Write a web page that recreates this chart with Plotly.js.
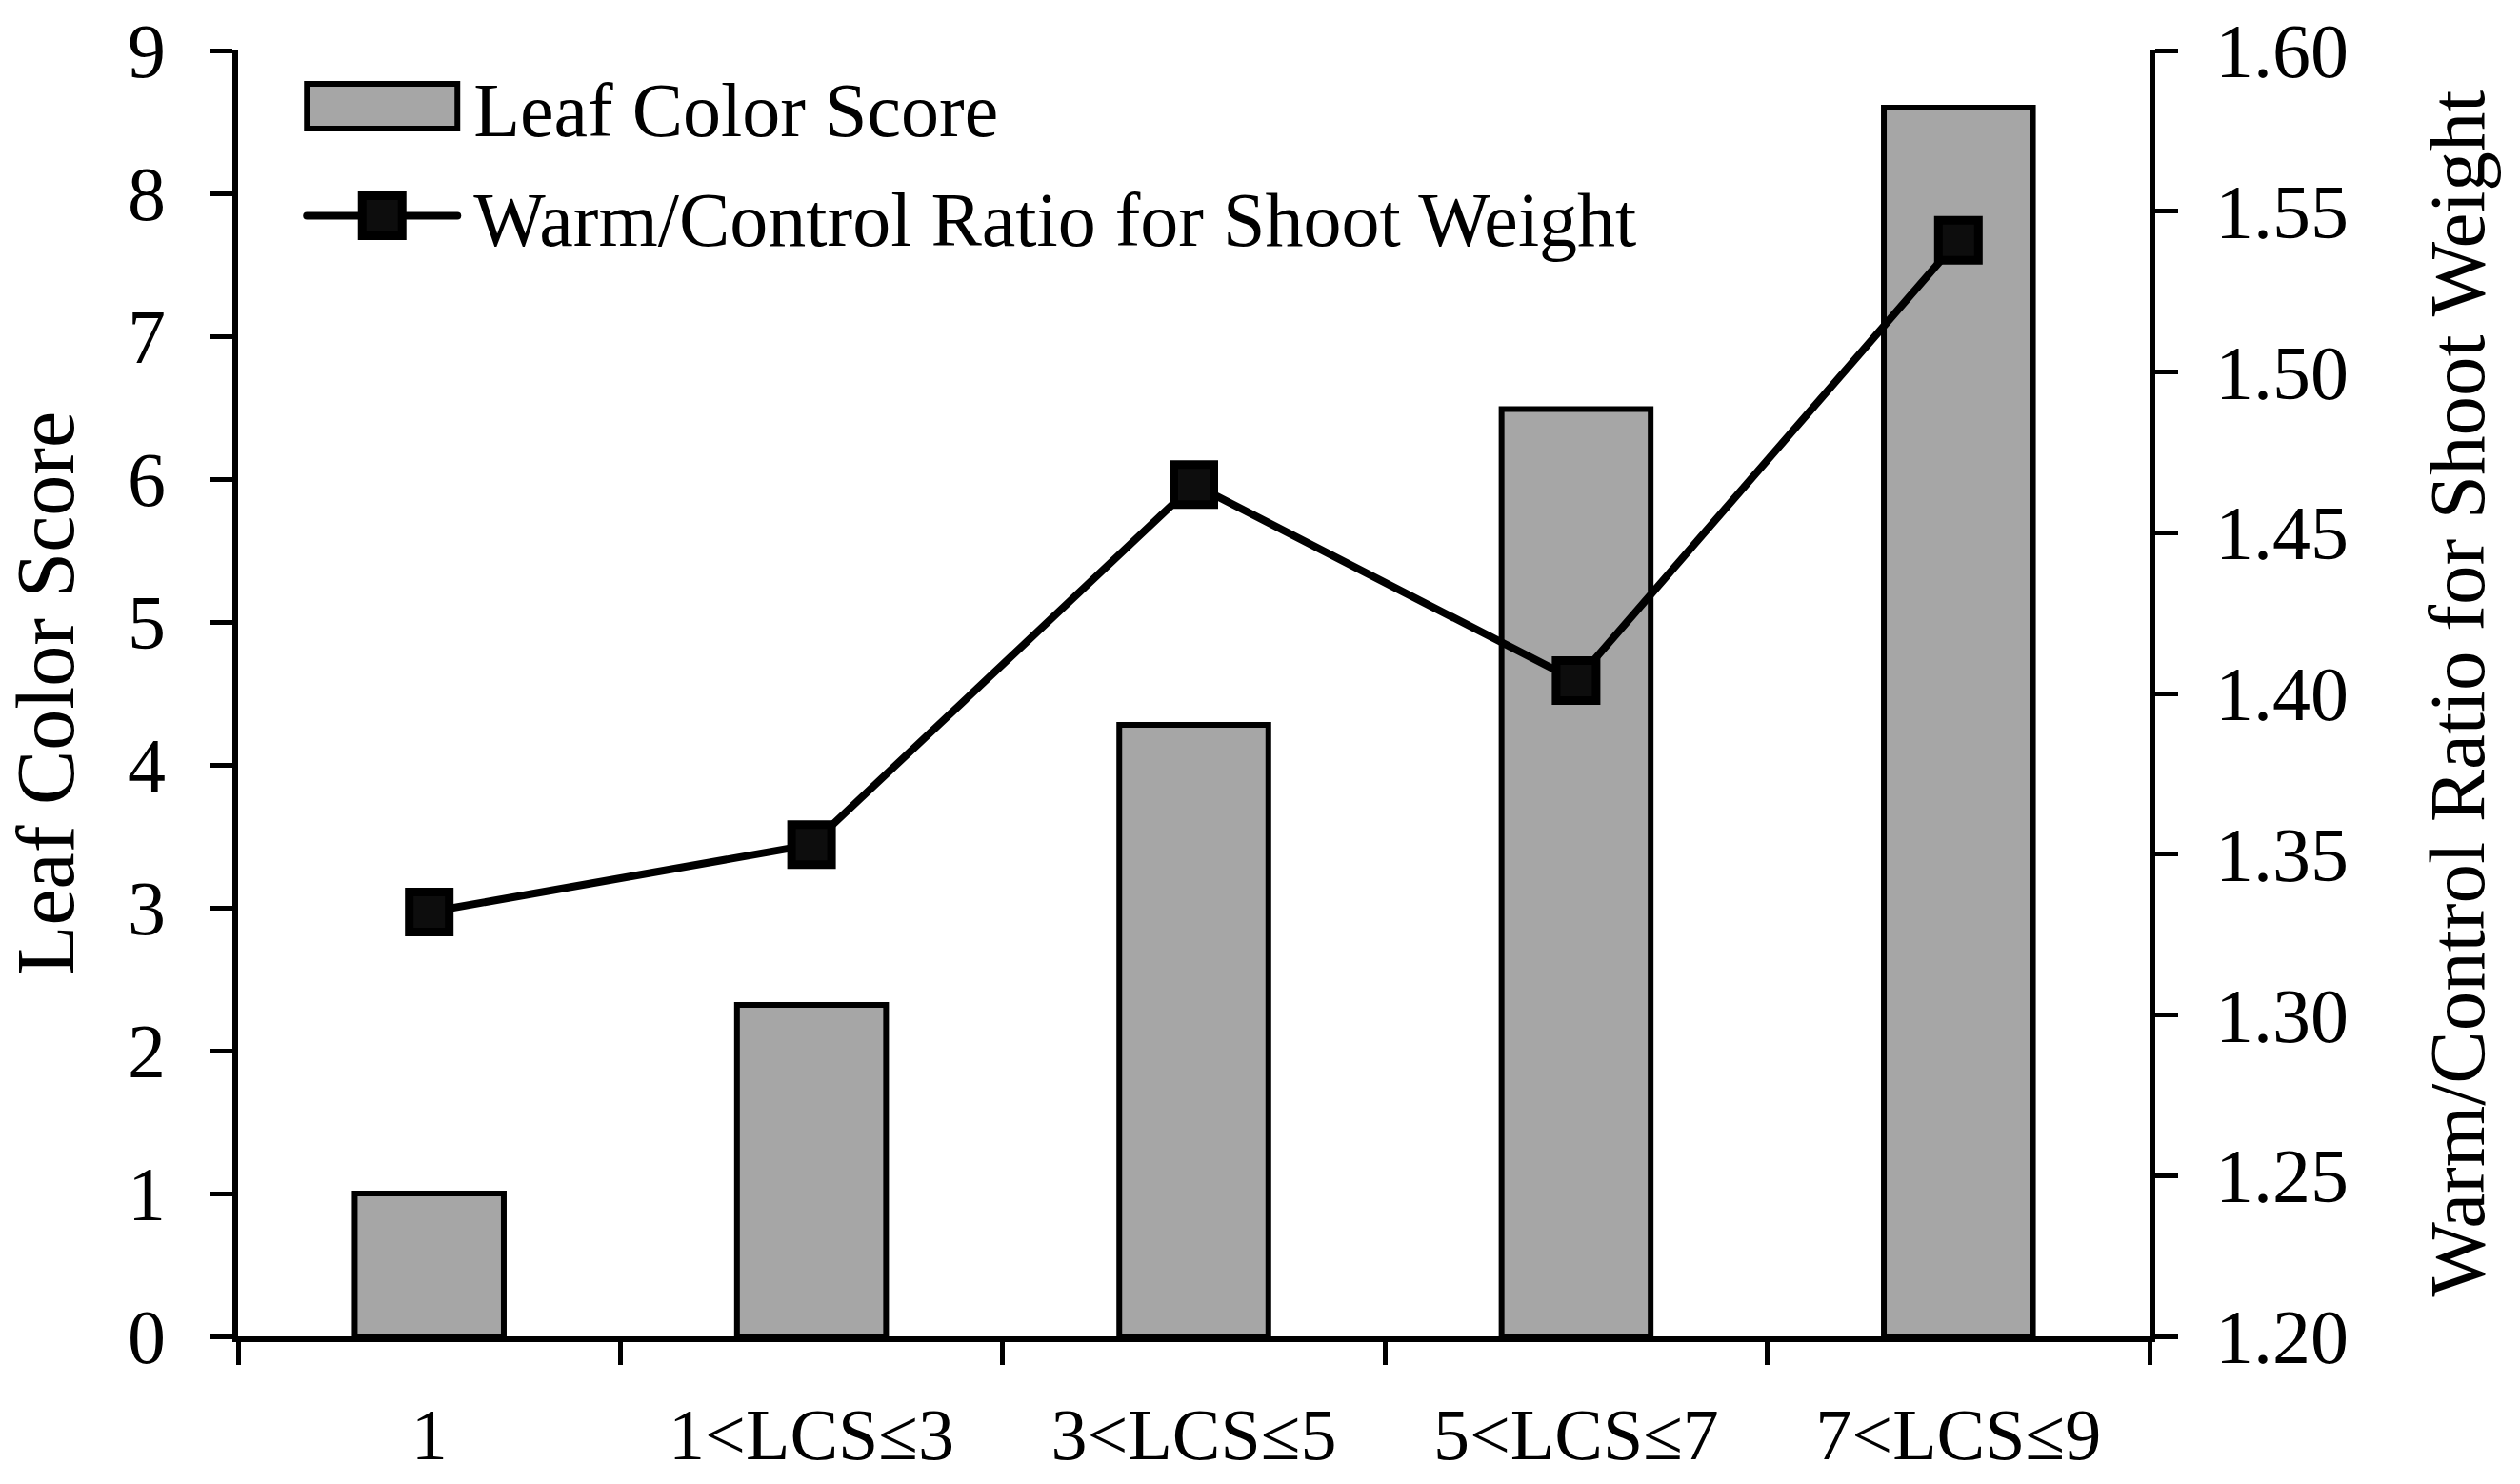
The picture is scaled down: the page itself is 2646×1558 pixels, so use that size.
<!DOCTYPE html>
<html>
<head>
<meta charset="utf-8">
<script src="https://cdn.plot.ly/plotly-3.0.1.min.js"></script>
<style>html,body{margin:0;padding:0;background:#fff;}</style>
</head>
<body>
<div id="chart" style="width:2646px;height:1558px;"></div>
<script>
const categories = ["1", "1<LCS\u22643", "3<LCS\u22645", "5<LCS\u22647", "7<LCS\u22649"];
const leafColorScore = [1.0, 2.32, 4.28, 6.49, 8.6];
const shootWeightRatio = [1.332, 1.353, 1.465, 1.404, 1.541];
const leftTicks = [0, 1, 2, 3, 4, 5, 6, 7, 8, 9];
const rightTicks = [1.20, 1.25, 1.30, 1.35, 1.40, 1.45, 1.50, 1.55, 1.60];

const FONT = "Liberation Serif, Times New Roman, serif";

const traces = [
  {
    type: "bar",
    name: "Leaf Color Score",
    legendgroup: "bars",
    x: categories,
    y: leafColorScore,
    width: 0.39,
    marker: { color: "#a6a6a6", line: { color: "#000", width: 6 } },
    xaxis: "x", yaxis: "y"
  },
  {
    type: "scatter",
    mode: "lines+markers",
    name: "Warm/Control Ratio for Shoot Weight",
    legendgroup: "line",
    x: categories,
    y: shootWeightRatio,
    line: { color: "#000", width: 8 },
    marker: { symbol: "square", size: 42, color: "#0d0d0d", line: { color: "#000", width: 9 } },
    xaxis: "x", yaxis: "y2"
  }
];

const layout = {
  width: 2646, height: 1558,
  margin: { l: 250, r: 389, t: 53, b: 155 },
  paper_bgcolor: "#fff", plot_bgcolor: "#fff",
  font: { family: FONT, size: 80, color: "#000" },
  showlegend: true,
  legend: {
    x: 0.0335, y: 1, xanchor: "left", yanchor: "top",
    bgcolor: "rgba(0,0,0,0)", itemwidth: 170,
    traceorder: "grouped", tracegroupgap: 8,
    font: { family: FONT, size: 80, color: "#000" }
  },
  xaxis: {
    type: "category",
    showline: true, linecolor: "#000", linewidth: 6,
    ticks: "outside", tickson: "boundaries", ticklen: 24, tickwidth: 5, tickcolor: "#000",
    showgrid: false, zeroline: false,
    ticklabelstandoff: 32,
    tickfont: { family: FONT, size: 76, color: "#000" }
  },
  yaxis: {
    range: [0, 9], tickvals: leftTicks,
    showline: true, linecolor: "#000", linewidth: 6,
    ticks: "outside", ticklen: 24, tickwidth: 5, tickcolor: "#000",
    showgrid: false, zeroline: false,
    ticklabelstandoff: 30,
    tickfont: { family: FONT, size: 80, color: "#000" },
    title: { text: "Leaf Color Score", font: { family: FONT, size: 86, color: "#000" }, standoff: 55 }
  },
  yaxis2: {
    overlaying: "y", side: "right", anchor: "x",
    range: [1.2, 1.6], tickvals: rightTicks, tickformat: ".2f",
    showline: true, linecolor: "#000", linewidth: 6,
    ticks: "outside", ticklen: 24, tickwidth: 5, tickcolor: "#000",
    showgrid: false, zeroline: false,
    ticklabelstandoff: 23,
    tickfont: { family: FONT, size: 80, color: "#000" },
    title: { text: "Warm/Control Ratio for Shoot Weight", font: { family: FONT, size: 83, color: "#000" }, standoff: 87 }
  }
};

const gd = document.getElementById("chart");
Plotly.newPlot(gd, traces, layout, { staticPlot: true, displayModeBar: false }).then(function () {
  // enlarge legend keys to match the reference's legend styling
  const items = gd.querySelectorAll(".legend .traces");
  let x0 = 5, x1 = 160, cx = 82;
  items.forEach(function (t) {
    const ln = t.querySelector(".legendlines path");
    if (ln) {
      const bb = ln.getBBox();
      x0 = bb.x; x1 = bb.x + bb.width - 12;
      cx = (x0 + x1) / 2;
      ln.setAttribute("d", "M" + x0 + ",0H" + x1);
      ln.style.strokeWidth = "8px";
      ln.style.strokeLinecap = "round";
    }
  });
  items.forEach(function (t) {
    const name = (t.querySelector("text.legendtext") || {}).textContent || "";
    if (name === "Leaf Color Score") {
      t.querySelectorAll(".legendpoints path").forEach(function (p) {
        p.setAttribute("transform", "");
        p.setAttribute("d", "M" + x0 + ",23.5H" + x1 + "V-23.5H" + x0 + "Z");
        p.style.strokeWidth = "6px";
        p.style.stroke = "#000";
        p.style.fill = "#a6a6a6";
      });
    } else {
      t.querySelectorAll(".legendpoints path.scatterpts").forEach(function (p) {
        p.setAttribute("transform", "translate(" + cx + ",0)");
        p.setAttribute("d", "M21,21H-21V-21H21Z");
        p.style.strokeWidth = "9px";
      });
    }
  });
});
</script>
</body>
</html>
